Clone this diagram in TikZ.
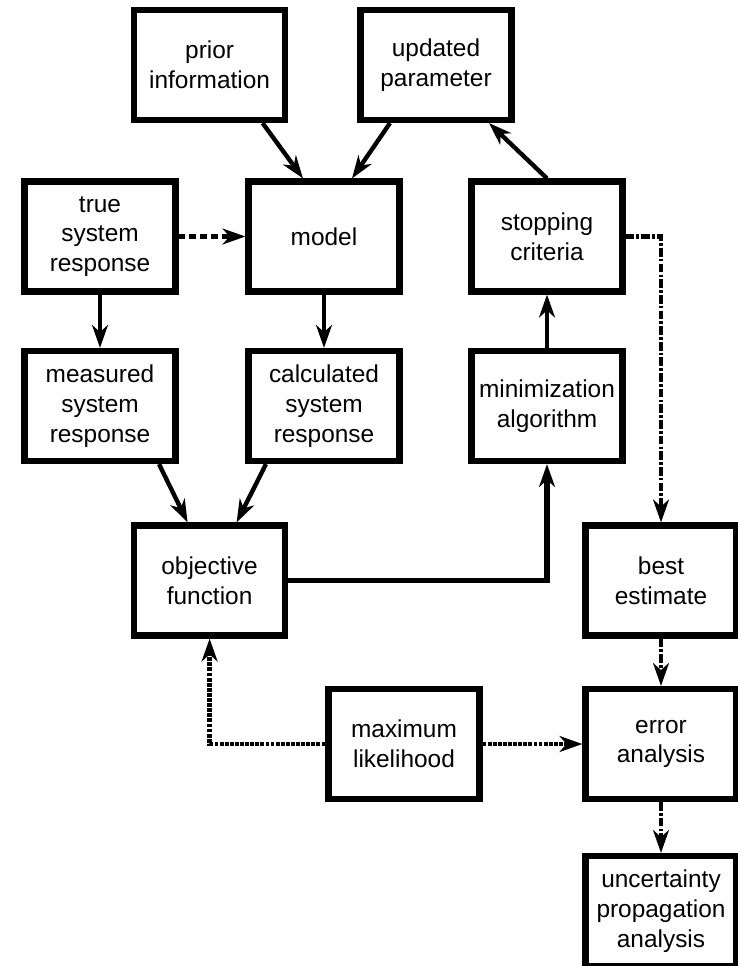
\documentclass[tikz,border=0pt]{standalone}
\usepackage{fontspec}
\setmainfont{Liberation Sans}
\usetikzlibrary{arrows.meta,calc}

\tikzset{
  block/.style={draw, line width=3.5pt, minimum width=3.02cm, minimum height=2.2cm,
    align=center, inner sep=1pt, font=\fontsize{13.9}{16.9}\selectfont},
  flow/.style={line width=2.5pt, -{Stealth[length=13pt,width=9pt,inset=4pt]}},
  assumed/.style={flow, line width=3.2pt, dash pattern=on 3.8pt off 2.4pt},
  likely/.style={flow, line width=2.7pt, dash pattern=on 2.2pt off 0.7pt},
  result/.style={flow, line width=2.7pt, dash pattern=on 5pt off 1.2pt on 1.5pt off 1.2pt},
}

\begin{document}
\begin{tikzpicture}[x=0.02cm, y=-0.02cm]
\useasboundingbox (0,0) rectangle (737,966);
\def\colA{100}
\def\colB{209.6}
\def\colC{324}
\def\colD{404}
\def\colE{436}
\def\colF{547}
\def\colG{661}
\def\rowA{65}
\def\rowB{236.5}
\def\rowC{406}
\def\rowD{580.5}
\def\rowE{744}
\def\rowF{911}

\node[block] (prior) at (\colB, \rowA) {prior\\information};
\node[block] (updated) at (\colE, \rowA) {updated\\parameter};
\node[block] (truesys) at (\colA, \rowB) {true\\system\\response};
\node[block] (model) at (\colC, \rowB) {model};
\node[block] (stopping) at (\colF, \rowB) {stopping\\criteria};
\node[block] (measured) at (\colA, \rowC) {measured\\system\\response};
\node[block] (calculated) at (\colC, \rowC) {calculated\\system\\response};
\node[block] (minimization) at (\colF, \rowC) {minimization\\algorithm};
\node[block] (objective) at (\colB, \rowD) {objective\\function};
\node[block] (best) at (\colG, \rowD) {best\\estimate};
\node[block] (maxlike) at (\colD, \rowE) {maximum\\likelihood};
\node[block] (error) at (\colG, \rowE) {error\\analysis};
\node[block] (uncertainty) at (\colG, \rowF) {uncertainty\\propagation\\analysis};

\draw[flow] ($(prior.south)+(53,0)$) -- ($(model.north)+(-21,0)$);
\draw[flow] ($(updated.south)+(-46,0)$) -- ($(model.north)+(28,0)$);
\draw[flow] (stopping.north) -- ($(updated.south)+(53,0)$);
\draw[assumed] (truesys.east) -- (model.west);
\draw[flow] (truesys) -- (measured);
\draw[flow] (model) -- (calculated);
\draw[flow] ($(measured.south)+(59,0)$) -- ($(objective.north)+(-22,0)$);
\draw[flow] ($(calculated.south)+(-58,0)$) -- ($(objective.north)+(27,0)$);
\draw[flow, line width=3pt] (objective.east) -| (minimization.south);
\draw[flow] (minimization) -- (stopping);

\draw[result] (stopping.east) -| (best.north);
\draw[result] (best) -- (error);
\draw[result] (error) -- (uncertainty);

\draw[likely] (maxlike.west) -| (objective.south);
\draw[likely] (maxlike) -- (error);
\end{tikzpicture}
\end{document}
